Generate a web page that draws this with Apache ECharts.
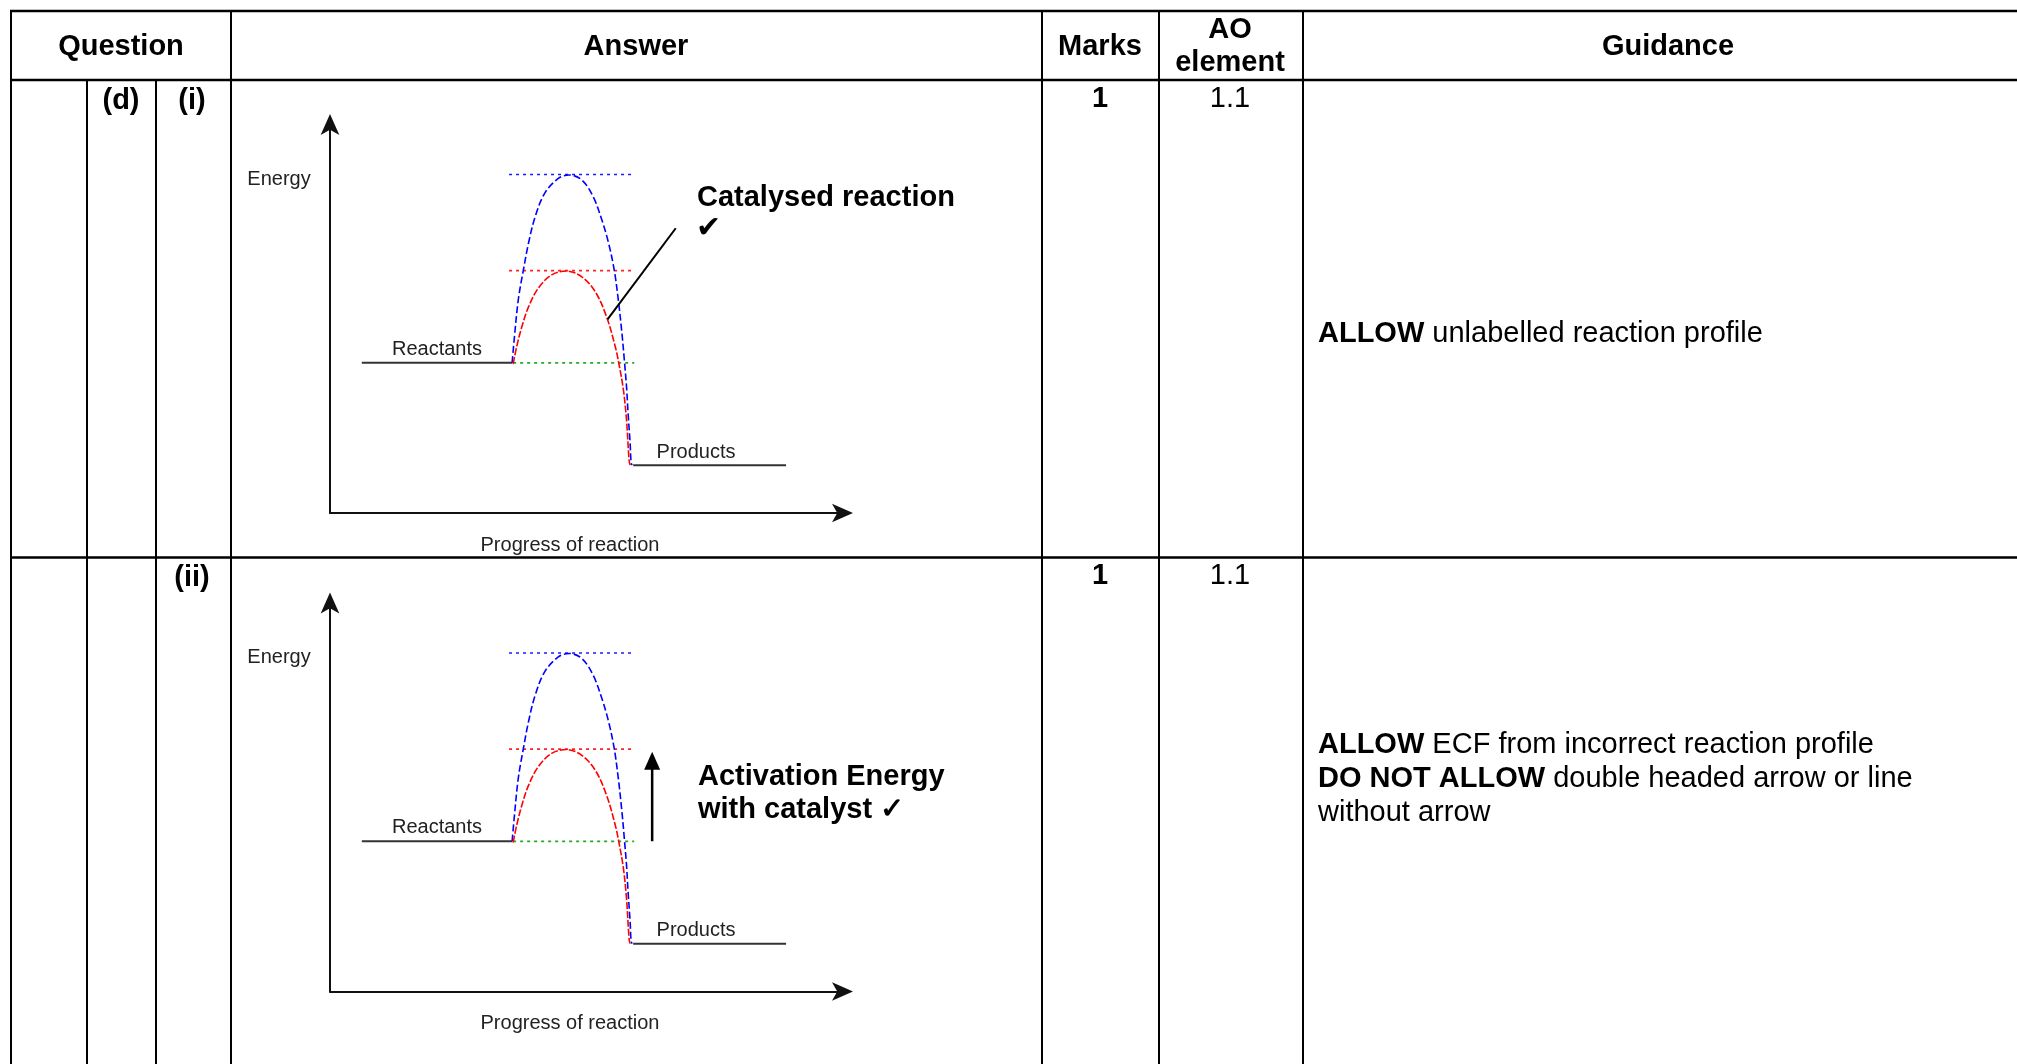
<!DOCTYPE html>
<html>
<head>
<meta charset="utf-8">
<script src="https://cdn.jsdelivr.net/npm/echarts@6/dist/echarts.min.js"></script>
<style>
html,body{margin:0;padding:0;background:#fff;}
#chart{width:2017px;height:1064px;}
</style>
</head>
<body>
<div id="chart"></div>
<script>
// ---- Data (progress 0..100, energy 0..100) ----
const uncatalysedProfile = [
  [35.5,38.6],[35.9,44.5],[36.7,54.8],[37.7,62.5],[38.7,69.4],[40.0,76.2],[41.9,82.3],
  [44.5,86.0],[46.6,86.9],[49.1,85.6],[51.3,81.3],[53.0,75.3],[54.3,69.4],[55.4,62.5],
  [56.2,54.8],[56.9,46.3],[57.4,38.9],[57.8,32.5],[58.1,25.7],[58.5,18.0],[58.7,12.9],[58.9,12.3]
];
const catalysedProfile = [
  [35.7,38.3],[36.4,42.8],[37.4,47.9],[38.7,53.0],[40.6,57.8],[43.2,61.2],[46.1,62.2],
  [49.1,60.7],[51.7,56.9],[53.9,50.5],[55.6,42.8],[56.3,38.5],[57.2,31.6],[57.8,23.9],
  [58.3,13.6],[58.5,12.3]
];
const reactantsLevel = 38.6;
const productsLevel = 12.3;
const uncatalysedPeak = 87.0;
const catalysedPeak = 62.3;
const reactantsSpan = [6.2, 35.5];
const productsSpan = [59.1, 88.9];
const peakGuideSpan = [34.9, 59.3];
const baseGuideSpan = [35.7, 59.3];
const pointerLine = [[54.1,49.8],[67.4,73.2]];
const activationArrow = [[62.8,38.6],[62.8,59.3]];

const headers = ['Question','Answer','Marks','AO','element','Guidance'];
const rowLabels = [['(d)','(i)'],['','(ii)']];
const marks = ['1','1'];
const aoElements = ['1.1','1.1'];

// ---- Layout ----
const FONT = 'Liberation Sans, Arial, sans-serif';
const ROW_OFF = 478.5;
const colX = [11, 87, 156, 231, 1042, 1159, 1303];
const hLines = [11, 80, 557.5];

function levelLine(span, y){ return [[span[0], y],[span[1], y]]; }

function diagramSeries(gi){
  const base = {type:'line', xAxisIndex:gi, yAxisIndex:gi, symbol:'none', silent:true, animation:false, clip:false};
  return [
    Object.assign({}, base, {data: levelLine(reactantsSpan, reactantsLevel), lineStyle:{color:'#333', width:2}}),
    Object.assign({}, base, {data: levelLine(productsSpan, productsLevel), lineStyle:{color:'#333', width:2}}),
    Object.assign({}, base, {data: levelLine(peakGuideSpan, uncatalysedPeak), lineStyle:{color:'#1a1aff', width:1.6, type:[3,4]}}),
    Object.assign({}, base, {data: levelLine(peakGuideSpan, catalysedPeak), lineStyle:{color:'#ff2020', width:1.6, type:[3,4]}}),
    Object.assign({}, base, {data: levelLine(baseGuideSpan, reactantsLevel), lineStyle:{color:'#22aa22', width:1.6, type:[3,4]}}),
    Object.assign({}, base, {data: uncatalysedProfile, smooth:0.35, lineStyle:{color:'#0000ff', width:1.6, type:[7,3]}}),
    Object.assign({}, base, {data: catalysedProfile, smooth:0.35, lineStyle:{color:'#ff0000', width:1.6, type:[7,2]}})
  ];
}

const series = diagramSeries(0).concat(diagramSeries(1));
series.push({type:'line', xAxisIndex:0, yAxisIndex:0, symbol:'none', silent:true, clip:false,
  data: pointerLine, lineStyle:{color:'#000', width:2}});
series.push({type:'line', xAxisIndex:1, yAxisIndex:1, silent:true, clip:false, showSymbol:true,
  symbol:'none',
  data: [activationArrow[0], {value: activationArrow[1], symbol:'triangle', symbolSize:[16,18]}],
  itemStyle:{color:'#000'}, lineStyle:{color:'#000', width:2.5}});

function axisPair(){
  const common = {type:'value', min:0, max:100, axisTick:{show:false}, axisLabel:{show:false}, splitLine:{show:false}};
  return {
    x: Object.assign({}, common, {axisLine:{show:true, symbol:['none','arrow'], symbolSize:[14,21], symbolOffset:[0,10], lineStyle:{color:'#111', width:2}}}),
    y: Object.assign({}, common, {axisLine:{show:true, symbol:['none','arrow'], symbolSize:[14,21], symbolOffset:[0,10], lineStyle:{color:'#111', width:2}}})
  };
}
const a0 = axisPair(), a1 = axisPair();
const xAxis = [Object.assign(a0.x,{gridIndex:0}), Object.assign(a1.x,{gridIndex:1})];
const yAxis = [Object.assign(a0.y,{gridIndex:0}), Object.assign(a1.y,{gridIndex:1})];

// ---- Graphic: table and texts ----
const g = [];
hLines.forEach(y => g.push({type:'line', shape:{x1:10, y1:y, x2:2017, y2:y}, style:{stroke:'#000', lineWidth:2.5}, z:10}));
colX.forEach((x, i) => {
  const y1 = (i === 1 || i === 2) ? 80 : 11;
  g.push({type:'line', shape:{x1:x, y1:y1, x2:x, y2:1064}, style:{stroke:'#000', lineWidth:2}, z:10});
});
function txt(t, x, y, size, bold, align, color, family){
  g.push({type:'text', z:11, style:{text:t, x:x, y:y, fontSize:size, fontFamily:family || FONT,
    fontWeight: bold ? 'bold' : 'normal', fill: color || '#000',
    textAlign: align || 'center', textVerticalAlign:'middle'}});
}
txt(headers[0], 121, 47, 29, true);
txt(headers[1], 636, 47, 29, true);
txt(headers[2], 1100, 47, 29, true);
txt(headers[3], 1230, 30, 29, true);
txt(headers[4], 1230, 63, 29, true);
txt(headers[5], 1668, 47, 29, true);

const rowY = [101, 578];
rowLabels.forEach((r, i) => {
  if (r[0]) txt(r[0], 121, rowY[i], 29, true);
  txt(r[1], 192, rowY[i], 29, true);
  txt(marks[i], 1100, rowY[i] - 2, 29, true);
  txt(aoElements[i], 1230, rowY[i] - 2, 29, false);
});

// diagram labels
[0, ROW_OFF].forEach(off => {
  txt('Energy', 279, 179 + off, 20, false, 'center', '#222');
  txt('Reactants', 437, 349 + off, 20, false, 'center', '#222');
  txt('Products', 696, 452 + off, 20, false, 'center', '#222');
  txt('Progress of reaction', 570, 545 + off, 20, false, 'center', '#222');
});
txt('Catalysed reaction', 697, 198, 29, true, 'left');
txt('\u2714', 696, 229, 30, false, 'left', '#000', 'DejaVu Sans');
txt('Activation Energy', 698, 777, 29, true, 'left');
txt('with catalyst \u2713', 698, 810, 29, true, 'left');

function rich(t, x, y){
  g.push({type:'text', z:11, style:{text:t, x:x, y:y, fontSize:29, fontFamily:FONT, fill:'#000',
    textAlign:'left', textVerticalAlign:'middle',
    rich:{b:{fontWeight:'bold', fontSize:29, fontFamily:FONT, fill:'#000'}, n:{fontSize:29, fontFamily:FONT, fill:'#000'}}}});
}
rich('{b|ALLOW}{n| unlabelled reaction profile}', 1318, 334);
rich('{b|ALLOW}{n| ECF from incorrect reaction profile}', 1318, 745);
rich('{b|DO NOT ALLOW}{n| double headed arrow or line}', 1318, 779);
rich('{n|without arrow}', 1318, 813);

const chart = echarts.init(document.getElementById('chart'), null, {renderer:'canvas'});
chart.setOption({
  backgroundColor:'#fff',
  animation:false,
  grid:[{left:330, top:124, width:513, height:389}, {left:330, top:602.5, width:513, height:389}],
  xAxis: xAxis,
  yAxis: yAxis,
  series: series,
  graphic: g
});
</script>
</body>
</html>
